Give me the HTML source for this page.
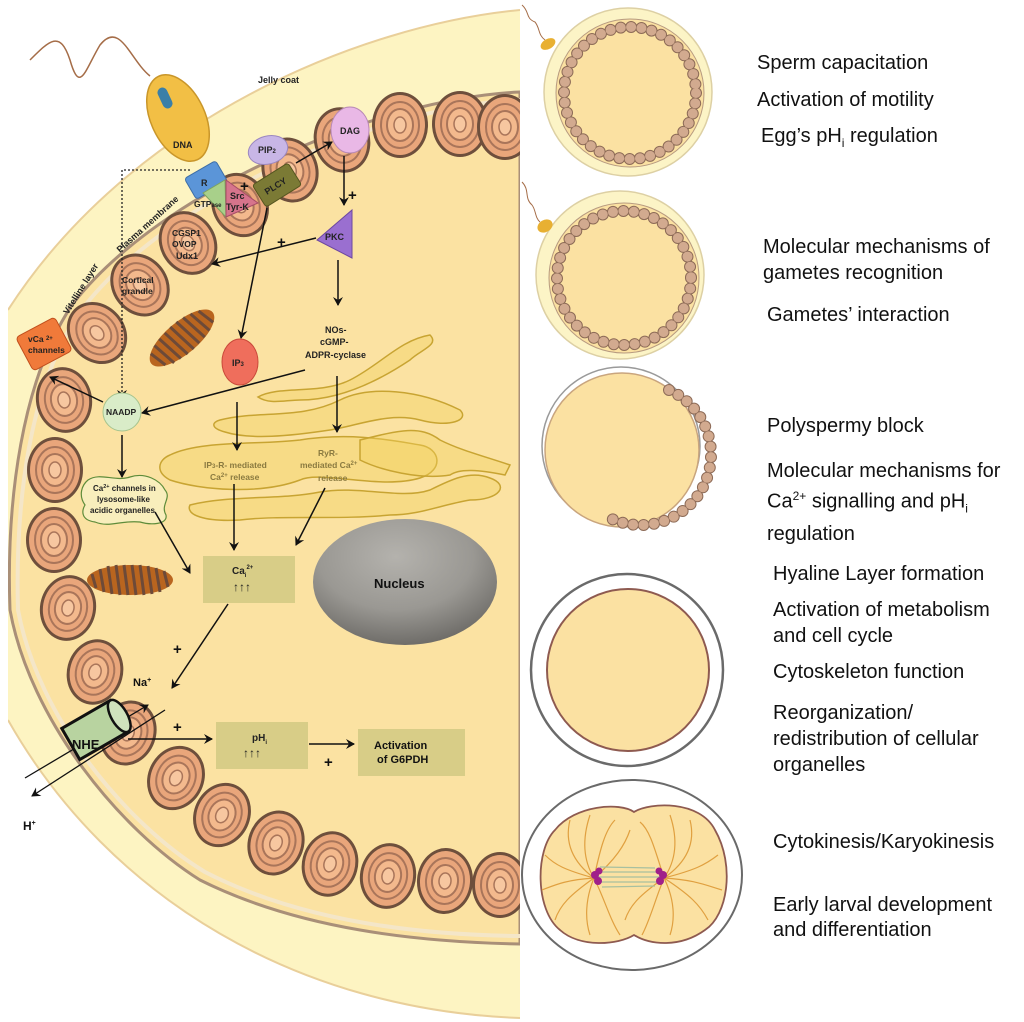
<!DOCTYPE html>
<html><head><meta charset="utf-8"><style>
html,body{margin:0;padding:0;background:#fff;}
body{width:1024px;height:1022px;overflow:hidden;position:relative;font-family:"Liberation Sans",Arial,sans-serif;}
svg{position:absolute;left:0;top:0;}
.t{position:absolute;font-size:20px;color:#111;line-height:26px;white-space:nowrap;}
</style></head><body>
<svg width="1024" height="1022" viewBox="0 0 1024 1022">
<defs>
<g id="bead">
<ellipse cx="0" cy="0" rx="28" ry="33" fill="#6e4f3c"/>
<ellipse cx="0" cy="0" rx="25" ry="30" fill="#e9a67b"/>
<ellipse cx="0" cy="0" rx="19" ry="23" fill="none" stroke="#a9755a" stroke-width="2"/>
<ellipse cx="0" cy="0" rx="13" ry="16" fill="#f3b98d" stroke="#a9755a" stroke-width="2"/>
<ellipse cx="0" cy="0" rx="6" ry="8" fill="#f7c7a0" stroke="#a9755a" stroke-width="1.5"/>
</g>
<radialGradient id="nuc" cx="0.45" cy="0.3" r="0.7">
<stop offset="0" stop-color="#b4b2ad"/><stop offset="0.6" stop-color="#9a9893"/><stop offset="1" stop-color="#6f6d69"/>
</radialGradient>
<marker id="ah" markerWidth="10" markerHeight="10" refX="8" refY="5" orient="auto" markerUnits="userSpaceOnUse"><path d="M0,0 L9,5 L0,10 L3,5 Z" fill="#111"/></marker>
<clipPath id="lc"><rect x="8" y="0" width="512" height="1022"/></clipPath>
</defs>
<g clip-path="url(#lc)">
<path d="M520,10 C360,25 130,120 8,310 L0,310 L0,720 L8,720 C110,900 300,1010 520,1018 Z" fill="#fdf4c2"/>
<path d="M520,10 C360,25 130,120 8,310" fill="none" stroke="#e9cf9a" stroke-width="2"/>
<path d="M8,720 C110,900 300,1010 520,1018" fill="none" stroke="#e9cf9a" stroke-width="2"/>
<path d="M520,92 C380,98 160,190 72,305 C22,380 6,500 10,610 C30,720 120,830 200,880 C300,930 420,942 520,944 L520,92 Z" fill="#fbe2a2" stroke="#a98f78" stroke-width="3"/>
<path d="M520,100 C380,106 165,198 80,312 C30,385 15,500 18,610 C38,718 126,824 205,872 C302,922 420,935 520,936" fill="none" stroke="#f4e6c8" stroke-width="4"/>
</g>
<text x="258" y="83" font-size="9" font-weight="bold" fill="#222">Jelly coat</text>
<!-- beads -->
<use href="#bead" transform="translate(400,125)"/>
<use href="#bead" transform="translate(460,124)"/>
<use href="#bead" transform="translate(505,127)"/>
<use href="#bead" transform="translate(342,140) rotate(-15)"/>
<use href="#bead" transform="translate(290,170) rotate(-20)"/>
<use href="#bead" transform="translate(240,205) rotate(-25)"/>
<use href="#bead" transform="translate(188,243) rotate(-30)"/>
<use href="#bead" transform="translate(140,285) rotate(-35)"/>
<use href="#bead" transform="translate(97,333) rotate(-40)"/>
<use href="#bead" transform="translate(64,400) rotate(-10)"/>
<use href="#bead" transform="translate(55,470)"/>
<use href="#bead" transform="translate(54,540)"/>
<use href="#bead" transform="translate(68,608) rotate(10)"/>
<use href="#bead" transform="translate(95,672) rotate(15)"/>
<use href="#bead" transform="translate(128,733) rotate(20)"/>
<use href="#bead" transform="translate(176,778) rotate(25)"/>
<use href="#bead" transform="translate(222,815) rotate(25)"/>
<use href="#bead" transform="translate(276,843) rotate(20)"/>
<use href="#bead" transform="translate(330,864) rotate(15)"/>
<use href="#bead" transform="translate(388,876) rotate(10)"/>
<use href="#bead" transform="translate(445,881) rotate(5)"/>
<use href="#bead" transform="translate(500,885)"/>
<rect x="520" y="0" width="504" height="1022" fill="#fff"/>
<text x="0" y="0" font-size="9" font-weight="bold" fill="#222" transform="translate(68,315) rotate(-58)">Vitelline layer</text>
<text x="0" y="0" font-size="9" font-weight="bold" fill="#222" transform="translate(120,253) rotate(-42)">Plasma membrane</text>
<!-- sperm -->
<path d="M150,76 C130,60 120,20 100,45 C85,70 80,95 70,60 C60,30 50,40 30,60" fill="none" stroke="#a56d48" stroke-width="1.5"/>
<ellipse cx="178" cy="118" rx="27" ry="46" transform="rotate(-25 178 118)" fill="#f2bf45" stroke="#c9962a" stroke-width="1.5"/>
<rect x="160" y="87" width="10" height="22" rx="5" transform="rotate(-25 165 98)" fill="#3a7fa8"/>
<text x="173" y="148" font-size="9" font-weight="bold" fill="#222">DNA</text>
<path d="M190,170 L122,170 L122,398" fill="none" stroke="#222" stroke-width="1.3" stroke-dasharray="2,2" marker-end="url(#ah)"/>
<rect x="188" y="168" width="36" height="24" rx="3" transform="rotate(-30 206 180)" fill="#5b95d8" stroke="#3e6ea6"/>
<text x="201" y="186" font-size="9" font-weight="bold" fill="#222">R</text>
<polygon points="203,193 225,180 226,217" fill="#a8d08a" stroke="#7da35f"/>
<polygon points="226,180 258,203 226,217" fill="#d6748c" stroke="#a64c65"/>
<text x="194" y="207" font-size="8.5" font-weight="bold" fill="#222">GTP<tspan font-size="6">ase</tspan></text>
<text x="230" y="199" font-size="9" font-weight="bold" fill="#222">Src</text>
<text x="226" y="210" font-size="9" font-weight="bold" fill="#222">Tyr-K</text>
<text x="240" y="191" font-size="15" font-weight="bold" fill="#111">+</text>
<ellipse cx="268" cy="150" rx="20" ry="14" transform="rotate(-15 268 150)" fill="#c8b6e6" stroke="#9b87c0"/>
<text x="258" y="153" font-size="9" font-weight="bold" fill="#222">PIP<tspan font-size="6">2</tspan></text>
<rect x="256" y="172" width="42" height="26" rx="3" transform="rotate(-32 277 185)" fill="#7b7a35" stroke="#555520"/>
<text x="0" y="0" font-size="9" font-weight="bold" fill="#222" transform="translate(267,195) rotate(-32)">PLCY</text>
<ellipse cx="350" cy="130" rx="19" ry="23" fill="#e9b8e6" stroke="#b98ab5"/>
<text x="340" y="134" font-size="9" font-weight="bold" fill="#222">DAG</text>
<line x1="296" y1="163" x2="332" y2="142" stroke="#111" stroke-width="1.5" marker-end="url(#ah)"/>
<line x1="344" y1="156" x2="344" y2="205" stroke="#111" stroke-width="1.5" marker-end="url(#ah)"/>
<text x="348" y="200" font-size="15" font-weight="bold" fill="#111">+</text>
<polygon points="317,240 352,210 352,258" fill="#9a6fd0" stroke="#6d48a0"/>
<text x="325" y="240" font-size="9" font-weight="bold" fill="#222">PKC</text>
<line x1="316" y1="238" x2="212" y2="264" stroke="#111" stroke-width="1.5" marker-end="url(#ah)"/>
<text x="277" y="247" font-size="15" font-weight="bold" fill="#111">+</text>
<text x="172" y="236" font-size="8.5" font-weight="bold" fill="#222">CGSP1</text>
<text x="172" y="247" font-size="8.5" font-weight="bold" fill="#222">OVOP</text>
<text x="176" y="259" font-size="9" font-weight="bold" fill="#222">Udx1</text>
<text x="122" y="283" font-size="8.5" font-weight="bold" fill="#222">Cortical</text>
<text x="122" y="294" font-size="8.5" font-weight="bold" fill="#222">grandle</text>
<line x1="338" y1="260" x2="338" y2="305" stroke="#111" stroke-width="1.5" marker-end="url(#ah)"/>
<line x1="267" y1="208" x2="241" y2="338" stroke="#111" stroke-width="1.5" marker-end="url(#ah)"/>
<g transform="translate(182,338) rotate(-40)">
<ellipse rx="40" ry="16" fill="#b9651f"/>
<path d="M-34,-8 L-30,10 M-26,-12 L-22,14 M-18,-14 L-14,15 M-10,-15 L-6,16 M-2,-16 L2,16 M6,-16 L10,15 M14,-15 L18,14 M22,-13 L26,12 M30,-10 L34,8" stroke="#6d4a38" stroke-width="3"/>
</g>
<ellipse cx="240" cy="362" rx="18" ry="23" fill="#ef6e5c" stroke="#c9493a"/>
<text x="232" y="366" font-size="9" font-weight="bold" fill="#222">IP<tspan font-size="6">3</tspan></text>
<text x="325" y="333" font-size="9" font-weight="bold" fill="#222">NOs-</text>
<text x="320" y="345" font-size="9" font-weight="bold" fill="#222">cGMP-</text>
<text x="305" y="358" font-size="9" font-weight="bold" fill="#222">ADPR-cyclase</text>
<rect x="22" y="325" width="44" height="38" rx="4" transform="rotate(-28 44 344)" fill="#f07a3a" stroke="#c04f1d"/>
<text x="28" y="342" font-size="8.5" font-weight="bold" fill="#222">vCa <tspan font-size="6" dy="-2">2+</tspan></text>
<text x="28" y="353" font-size="8.5" font-weight="bold" fill="#222">channels</text>
<g fill="#f3d35c" fill-opacity="0.4" stroke="#c8a432" stroke-width="1.5">
<path d="M170,455 C200,440 260,445 300,440 C350,432 390,440 420,445 C440,448 445,470 420,478 C380,490 320,470 300,480 C260,495 200,490 170,480 C155,472 158,460 170,455 Z"/>
<path d="M220,420 C260,410 300,420 340,400 C370,385 420,390 460,410 C470,420 450,428 420,420 C390,412 360,425 330,430 C290,436 250,440 225,432 C210,428 212,422 220,420 Z"/>
<path d="M258,397 C280,385 320,395 350,380 C380,365 400,340 430,335 C440,345 420,350 410,360 C380,380 340,400 300,400 C285,400 270,405 258,397 Z"/>
<path d="M190,505 C230,495 280,500 320,492 C360,485 400,500 430,490 C450,480 470,470 490,478 C510,485 500,500 470,500 C440,505 420,515 390,515 C340,520 280,515 240,520 C205,522 185,515 190,505 Z"/>
<path d="M360,440 C400,430 420,425 440,440 C460,450 480,455 510,465 L505,475 C480,470 460,468 450,475 C420,480 380,470 360,460 Z"/>
</g>
<text x="204" y="468" font-size="8.5" font-weight="bold" fill="#8a7a40">IP<tspan font-size="6">3</tspan>-R- mediated</text>
<text x="210" y="480" font-size="8.5" font-weight="bold" fill="#8a7a40">Ca<tspan font-size="6" dy="-3">2+</tspan><tspan dy="3"> release</tspan></text>
<text x="318" y="456" font-size="8.5" font-weight="bold" fill="#8a7a40">RyR-</text>
<text x="300" y="468" font-size="8.5" font-weight="bold" fill="#8a7a40">mediated Ca<tspan font-size="6" dy="-3">2+</tspan></text>
<text x="318" y="481" font-size="8.5" font-weight="bold" fill="#8a7a40">release</text>
<line x1="305" y1="370" x2="142" y2="413" stroke="#111" stroke-width="1.5" marker-end="url(#ah)"/>
<ellipse cx="122" cy="412" rx="19" ry="19" fill="#d9ecc8" stroke="#a6c48e"/>
<text x="106" y="415" font-size="8.5" font-weight="bold" fill="#222">NAADP</text>
<line x1="103" y1="402" x2="50" y2="377" stroke="#111" stroke-width="1.5" marker-end="url(#ah)"/>
<line x1="122" y1="435" x2="122" y2="477" stroke="#111" stroke-width="1.5" marker-end="url(#ah)"/>
<path d="M88,480 C100,472 115,482 130,477 C145,472 160,480 165,490 C172,498 160,505 166,515 C168,525 150,525 140,522 C120,520 110,528 95,522 C80,520 82,510 85,505 C78,495 82,485 88,480 Z" fill="#f8eebc" stroke="#5e8c3a" stroke-width="1.2"/>
<text x="93" y="491" font-size="8" font-weight="bold" fill="#222">Ca<tspan font-size="5.5" dy="-3">2+</tspan><tspan dy="3"> channels in</tspan></text>
<text x="97" y="502" font-size="8" font-weight="bold" fill="#222">lysosome-like</text>
<text x="90" y="513" font-size="8" font-weight="bold" fill="#222">acidic organelles</text>
<line x1="237" y1="402" x2="237" y2="450" stroke="#111" stroke-width="1.5" marker-end="url(#ah)"/>
<line x1="337" y1="376" x2="337" y2="432" stroke="#111" stroke-width="1.5" marker-end="url(#ah)"/>
<line x1="234" y1="484" x2="234" y2="550" stroke="#111" stroke-width="1.5" marker-end="url(#ah)"/>
<line x1="325" y1="488" x2="296" y2="545" stroke="#111" stroke-width="1.5" marker-end="url(#ah)"/>
<line x1="155" y1="512" x2="190" y2="573" stroke="#111" stroke-width="1.5" marker-end="url(#ah)"/>
<g transform="translate(130,580)">
<ellipse rx="43" ry="15" fill="#b9651f"/>
<path d="M-38,-6 L-34,8 M-30,-11 L-26,12 M-22,-14 L-18,14 M-14,-15 L-10,15 M-6,-15 L-2,15 M2,-15 L6,15 M10,-15 L14,15 M18,-14 L22,14 M26,-12 L30,12 M34,-9 L38,7" stroke="#6d4a38" stroke-width="3"/>
</g>
<rect x="203" y="556" width="92" height="47" fill="#d8cd87"/>
<text x="232" y="574" font-size="10" font-weight="bold" fill="#222">Ca<tspan font-size="6" dy="3">i</tspan><tspan font-size="6" dy="-8">2+</tspan></text>
<text x="233" y="591" font-size="12" font-weight="bold" fill="#222">↑↑↑</text>
<ellipse cx="405" cy="582" rx="92" ry="63" fill="url(#nuc)"/>
<text x="374" y="588" font-size="13" font-weight="bold" fill="#111">Nucleus</text>
<line x1="228" y1="604" x2="172" y2="688" stroke="#111" stroke-width="1.5" marker-end="url(#ah)"/>
<text x="173" y="654" font-size="15" font-weight="bold" fill="#111">+</text>
<text x="133" y="686" font-size="11" font-weight="bold" fill="#111">Na<tspan font-size="7" dy="-4">+</tspan></text>
<line x1="25" y1="778" x2="148" y2="705" stroke="#111" stroke-width="1.3" marker-end="url(#ah)"/>
<line x1="165" y1="710" x2="32" y2="796" stroke="#111" stroke-width="1.3" marker-end="url(#ah)"/>
<g transform="translate(95,730) rotate(-30)">
<rect x="-28" y="-18" width="56" height="36" fill="#b8d3a0" stroke="#111" stroke-width="3"/>
<ellipse cx="28" cy="0" rx="8" ry="18" fill="#cfe2bd" stroke="#111" stroke-width="2.5"/>
</g>
<text x="72" y="749" font-size="13" font-weight="bold" fill="#111">NHE</text>
<line x1="128" y1="739" x2="212" y2="739" stroke="#111" stroke-width="1.5" marker-end="url(#ah)"/>
<text x="173" y="732" font-size="15" font-weight="bold" fill="#111">+</text>
<text x="23" y="830" font-size="12" font-weight="bold" fill="#111">H<tspan font-size="7" dy="-5">+</tspan></text>
<rect x="216" y="722" width="92" height="47" fill="#d8cd87"/>
<text x="252" y="741" font-size="10" font-weight="bold" fill="#222">pH<tspan font-size="6" dy="3">i</tspan></text>
<text x="243" y="757" font-size="12" font-weight="bold" fill="#222">↑↑↑</text>
<line x1="309" y1="744" x2="354" y2="744" stroke="#111" stroke-width="1.5" marker-end="url(#ah)"/>
<text x="324" y="767" font-size="15" font-weight="bold" fill="#111">+</text>
<rect x="358" y="729" width="107" height="47" fill="#d8cd87"/>
<text x="374" y="749" font-size="11" font-weight="bold" fill="#111">Activation</text>
<text x="377" y="763" font-size="11" font-weight="bold" fill="#111">of G6PDH</text>

<!-- RIGHT PANEL -->
<circle cx="628" cy="92" r="84" fill="#fcf4c6" stroke="#ddd0a4" stroke-width="1.5"/>
<circle cx="630" cy="93" r="74" fill="#fbe1a2" stroke="#b79a80" stroke-width="1"/>
<circle cx="630" cy="93" r="66" fill="none" stroke="#8d6b57" stroke-width="12" stroke-dasharray="0 10.4" stroke-linecap="round"/>
<circle cx="630" cy="93" r="66" fill="none" stroke="#d2aa8f" stroke-width="10" stroke-dasharray="0 10.4" stroke-linecap="round"/>
<path d="M522,5 C530,12 525,18 535,22 C540,28 538,35 545,40" fill="none" stroke="#a56d48" stroke-width="1"/>
<ellipse cx="548" cy="44" rx="8" ry="5" transform="rotate(-30 548 44)" fill="#e8b032"/>
<circle cx="620" cy="275" r="84" fill="#fcf4c6" stroke="#ddd0a4" stroke-width="1.5"/>
<circle cx="624" cy="278" r="75" fill="#fbe1a2" stroke="#b79a80" stroke-width="1"/>
<circle cx="624" cy="278" r="67" fill="none" stroke="#8d6b57" stroke-width="12" stroke-dasharray="0 10.5" stroke-linecap="round"/>
<circle cx="624" cy="278" r="67" fill="none" stroke="#d2aa8f" stroke-width="10" stroke-dasharray="0 10.5" stroke-linecap="round"/>
<path d="M522,182 C530,190 524,198 532,205 C536,210 535,218 540,222" fill="none" stroke="#a56d48" stroke-width="1"/>
<ellipse cx="545" cy="226" rx="8" ry="6" transform="rotate(-30 545 226)" fill="#e8b032"/>
<circle cx="621" cy="446" r="79" fill="#fff" stroke="#9a9a9a" stroke-width="1.5"/>
<circle cx="622" cy="450" r="77" fill="#fbe1a2" stroke="#c9a57e" stroke-width="1.5"/>
<path d="M669,390 A70,70 0 0 1 612,519" fill="none" stroke="#8d6b57" stroke-width="12" stroke-dasharray="0 10.5" stroke-linecap="round"/>
<path d="M669,390 A70,70 0 0 1 612,519" fill="none" stroke="#d2aa8f" stroke-width="10" stroke-dasharray="0 10.5" stroke-linecap="round"/>
<circle cx="627" cy="670" r="96" fill="#fff" stroke="#6a6a6a" stroke-width="2.5"/>
<circle cx="628" cy="670" r="81" fill="#fbe1a2" stroke="#8e5a50" stroke-width="2"/>
<ellipse cx="632" cy="875" rx="110" ry="95" fill="#fff" stroke="#6a6a6a" stroke-width="2"/>
<path d="M634,812 C650,802 700,800 715,830 C735,865 728,915 705,930 C680,948 650,945 634,935 C618,945 580,948 560,930 C535,910 535,850 555,830 C575,805 620,802 634,812 Z" fill="#fbe1a2" stroke="#8e5a50" stroke-width="1.8"/>
<g stroke="#e0a040" stroke-width="1.2" fill="none">
<path d="M594,878 C570,860 565,840 570,820"/><path d="M594,878 C580,855 585,830 590,815"/><path d="M594,878 C600,850 605,830 615,820"/>
<path d="M594,878 C565,870 555,865 545,855"/><path d="M594,878 C565,880 555,885 542,890"/><path d="M594,878 C570,895 560,905 555,920"/>
<path d="M594,878 C585,900 585,920 590,935"/><path d="M594,878 C605,900 610,920 620,935"/><path d="M594,878 C615,860 625,845 630,830"/>
<path d="M664,878 C690,860 695,840 690,820"/><path d="M664,878 C680,855 675,830 670,815"/><path d="M664,878 C655,850 650,830 640,822"/>
<path d="M664,878 C695,870 705,865 718,855"/><path d="M664,878 C695,880 705,885 722,890"/><path d="M664,878 C690,895 700,905 708,920"/>
<path d="M664,878 C675,900 675,920 670,935"/><path d="M664,878 C655,900 650,920 642,935"/><path d="M664,878 C640,895 630,905 625,920"/>
</g>
<g stroke="#a8c0a0" stroke-width="1.2"><line x1="598" y1="872" x2="660" y2="872"/><line x1="598" y1="877" x2="660" y2="877"/><line x1="598" y1="882" x2="660" y2="882"/><line x1="600" y1="867" x2="655" y2="868"/><line x1="602" y1="887" x2="655" y2="886"/></g>
<circle cx="595" cy="875" r="4" fill="#a0208a"/><circle cx="598" cy="881" r="4" fill="#a0208a"/><circle cx="599" cy="871" r="3.5" fill="#a0208a"/>
<circle cx="663" cy="875" r="4" fill="#a0208a"/><circle cx="660" cy="881" r="4" fill="#a0208a"/><circle cx="659" cy="871" r="3.5" fill="#a0208a"/>
</svg>
<div class="t" style="left:757px;top:50px">Sperm capacitation</div>
<div class="t" style="left:757px;top:87px">Activation of motility</div>
<div class="t" style="left:761px;top:123px">Egg’s pH<sub style="font-size:12px">i</sub> regulation</div>
<div class="t" style="left:763px;top:234px">Molecular mechanisms of<br>gametes recognition</div>
<div class="t" style="left:767px;top:302px">Gametes’ interaction</div>
<div class="t" style="left:767px;top:413px">Polyspermy block</div>
<div class="t" style="left:767px;top:459px;line-height:25px">Molecular mechanisms for<br>Ca<sup style="font-size:12px">2+</sup> signalling and pH<sub style="font-size:12px">i</sub><br>regulation</div>
<div class="t" style="left:773px;top:561px">Hyaline Layer formation</div>
<div class="t" style="left:773px;top:597px">Activation of metabolism<br>and cell cycle</div>
<div class="t" style="left:773px;top:659px">Cytoskeleton function</div>
<div class="t" style="left:773px;top:700px">Reorganization/<br>redistribution of cellular<br>organelles</div>
<div class="t" style="left:773px;top:829px">Cytokinesis/Karyokinesis</div>
<div class="t" style="left:773px;top:893px;line-height:25px">Early larval development<br>and differentiation</div>
</body></html>
